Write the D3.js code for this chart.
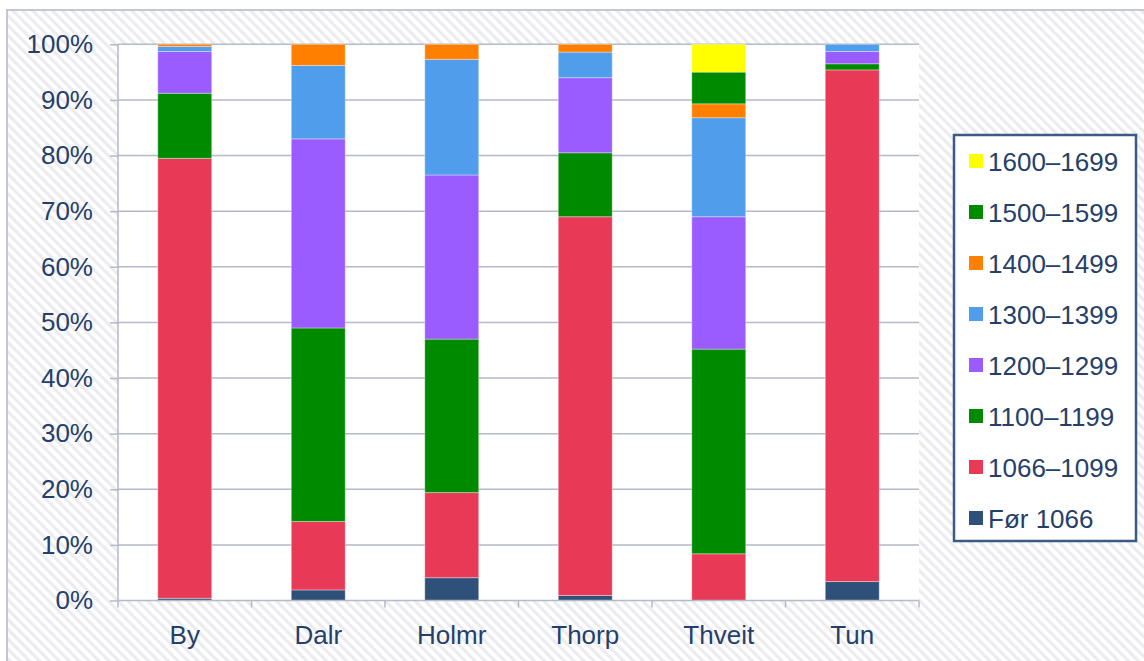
<!DOCTYPE html>
<html>
<head>
<meta charset="utf-8">
<script src="https://cdn.jsdelivr.net/npm/d3@7"></script>
<style>
  html, body { margin: 0; padding: 0; background: #ffffff; }
  svg { display: block; }
  text { font-family: "Liberation Sans", Arial, sans-serif; }
</style>
</head>
<body>
<svg id="chart" width="1144" height="661"></svg>
<script>
// Farm names (x categories)
const categories = ["By", "Dalr", "Holmr", "Thorp", "Thveit", "Tun"];

// Share of dated records per period, in percent (stacked bottom to top)
const periodLabels = ["Før 1066", "1066–1099", "1100–1199", "1200–1299", "1300–1399", "1400–1499", "1500–1599", "1600–1699"];
const before1066 = [0.4, 1.9, 4.1, 0.9, 0.0, 3.4];
const p1066 = [79.1, 12.3, 15.3, 68.1, 8.4, 92.0];
const p1100 = [11.7, 34.8, 27.6, 11.5, 36.8, 1.1];
const p1200 = [7.5, 34.0, 29.5, 13.5, 23.8, 2.2];
const p1300 = [0.9, 13.2, 20.8, 4.6, 17.8, 1.3];
const p1400 = [0.4, 3.8, 2.7, 1.4, 2.5, 0.0];
const p1500 = [0.0, 0.0, 0.0, 0.0, 5.7, 0.0];
const p1600 = [0.0, 0.0, 0.0, 0.0, 5.0, 0.0];

const yTicks = [0, 10, 20, 30, 40, 50, 60, 70, 80, 90, 100];

const seriesValues = [before1066, p1066, p1100, p1200, p1300, p1400, p1500, p1600];
const seriesColors = ["#2f5078", "#e83a56", "#008a00", "#9a5bff", "#4f9deb", "#ff7f00", "#008a00", "#ffff00"];

const rows = categories.map((c, i) => {
  const r = { cat: c };
  periodLabels.forEach((p, k) => { r[p] = seriesValues[k][i]; });
  return r;
});

const W = 1144, H = 661;
const margin = { top: 44.3, right: 225, bottom: 60.5, left: 118 };
const innerW = W - margin.left - margin.right;
const innerH = H - margin.top - margin.bottom;
const textColor = "#253f6a";
const gridColor = "#b5b9c8";
const fontSize = 26;

const svg = d3.select("#chart");
const defs = svg.append("defs");

// light diagonal hatch used for the chart background
const pat = defs.append("pattern")
  .attr("id", "hatch")
  .attr("patternUnits", "userSpaceOnUse")
  .attr("width", 7).attr("height", 7)
  .attr("patternTransform", "rotate(-45)");
pat.append("rect").attr("width", 7).attr("height", 7).attr("fill", "#ffffff");
pat.append("rect").attr("width", 3.2).attr("height", 7).attr("fill", "#ececf0");

svg.append("rect").attr("width", W).attr("height", H).attr("fill", "#ffffff");
svg.append("rect").attr("x", 7).attr("y", 10).attr("width", W - 7).attr("height", H - 10)
  .attr("fill", "url(#hatch)");
// outer frame (top and left edges)
svg.append("path")
  .attr("d", `M7,${H} L7,10 L${W},10`)
  .attr("fill", "none").attr("stroke", "#b4b6c6").attr("stroke-width", 1.5);

const g = svg.append("g").attr("transform", `translate(${margin.left},${margin.top})`);

const x = d3.scaleBand().domain(categories).range([0, innerW]).paddingInner(0.596).paddingOuter(0.298);
const y = d3.scaleLinear().domain([0, 100]).range([innerH, 0]);

// plot area background
g.append("rect").attr("width", innerW).attr("height", innerH).attr("fill", "#ffffff");

// horizontal gridlines
g.append("g").selectAll("line").data(yTicks.filter(t => t > 0)).join("line")
  .attr("x1", 0).attr("x2", innerW)
  .attr("y1", d => y(d)).attr("y2", d => y(d))
  .attr("stroke", gridColor).attr("stroke-width", 1.5);

// stacked bars
const stack = d3.stack().keys(periodLabels);
const layers = stack(rows);
g.append("g").selectAll("g").data(layers).join("g")
  .attr("fill", (d, i) => seriesColors[i])
  .selectAll("rect").data(d => d.filter(s => s[1] - s[0] > 0)).join("rect")
  .attr("x", d => x(d.data.cat))
  .attr("width", x.bandwidth())
  .attr("y", d => y(d[1]))
  .attr("height", d => y(d[0]) - y(d[1]))
  .attr("stroke", "rgba(255,255,255,0.35)")
  .attr("stroke-width", 1);

// y axis
const yAxis = d3.axisLeft(y).tickValues(yTicks).tickFormat(d => d + "%").tickSize(8).tickPadding(17);
const ya = g.append("g").call(yAxis);
ya.select(".domain").attr("stroke", gridColor).attr("stroke-width", 1.5)
  .attr("d", `M0,0 V${innerH + 7}`);
ya.selectAll(".tick line").attr("stroke", gridColor).attr("stroke-width", 1.5);
ya.selectAll(".tick text").attr("fill", textColor).attr("font-size", fontSize)
  .attr("font-family", "Liberation Sans, Arial, sans-serif");

// x axis: baseline, boundary ticks, centred labels
const xg = g.append("g").attr("transform", `translate(0,${innerH})`);
xg.append("line").attr("x1", 0).attr("x2", innerW).attr("y1", 0).attr("y2", 0)
  .attr("stroke", gridColor).attr("stroke-width", 1.5);
const step = x.step();
xg.selectAll("line.bound").data(categories).join("line").attr("class", "bound")
  .attr("x1", (d, i) => (i + 1) * step).attr("x2", (d, i) => (i + 1) * step)
  .attr("y1", 0).attr("y2", 7)
  .attr("stroke", gridColor).attr("stroke-width", 1.5);
xg.selectAll("text").data(categories).join("text")
  .attr("x", d => x(d) + x.bandwidth() / 2)
  .attr("y", 43)
  .attr("text-anchor", "middle")
  .attr("fill", textColor).attr("font-size", fontSize)
  .text(d => d);

// legend
const lg = svg.append("g");
lg.append("rect").attr("x", 954).attr("y", 135).attr("width", 182).attr("height", 406)
  .attr("fill", "#ffffff").attr("stroke", "#3b5a86").attr("stroke-width", 2.5);
const legendOrder = periodLabels.map((p, i) => ({ p, c: seriesColors[i] })).reverse();
const item = lg.selectAll("g.item").data(legendOrder).join("g").attr("class", "item")
  .attr("transform", (d, i) => `translate(969,${162 + i * 51})`);
item.append("rect").attr("x", 0).attr("y", -8).attr("width", 14).attr("height", 14).attr("fill", d => d.c);
item.append("text").attr("x", 19).attr("y", 0).attr("dy", "0.36em")
  .attr("fill", textColor).attr("font-size", fontSize).text(d => d.p);
</script>
</body>
</html>
